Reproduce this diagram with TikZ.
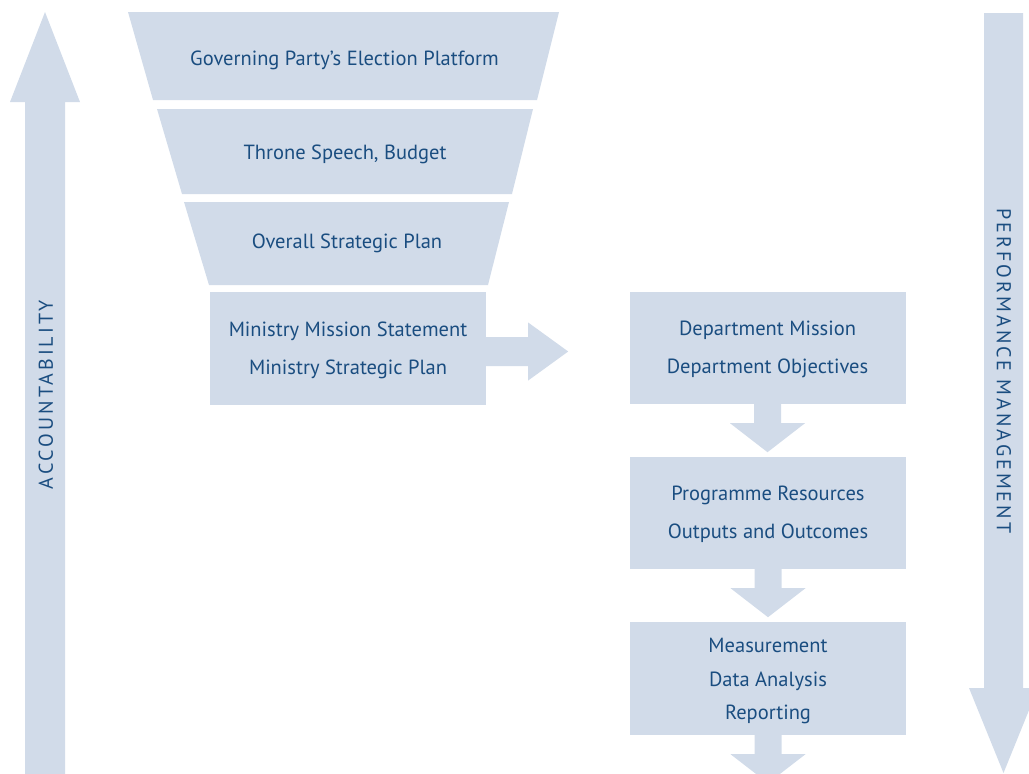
\documentclass[tikz,border=0pt]{standalone}
\usepackage{fontspec}
\setmainfont{PT Sans}
\newfontfamily\spacedcaps[LetterSpace=15]{PT Sans}
\usetikzlibrary{calc}

\definecolor{panel}{RGB}{209,219,233}
\definecolor{ink}{RGB}{26,77,128}

\tikzset{
  txt/.style={text=ink, inner sep=0pt, align=center,
    font=\fontsize{20.5}{38.5}\selectfont},
  box/.style={fill=panel, inner sep=0pt, minimum width=276pt, minimum height=113pt},
  caps/.style={text=ink, inner sep=0pt, text height=14.5pt, text depth=0pt,
    font=\spacedcaps\fontsize{20}{24}\selectfont},
  % block arrow pointing down, hanging from the current point
  downblock/.style={insert path={++(-13.5,0) -- ++(27,0) -- ++(0,19) -- ++(24,0)
    -- ++(-37.5,29) -- ++(-37.5,-29) -- ++(24,0) -- cycle}},
  % block arrow pointing right, starting at the current point
  rightblock/.style={insert path={++(0,-14.5) -- ++(42,0) -- ++(0,-14.5)
    -- ++(40,29) -- ++(-40,29) -- ++(0,-14.5) -- ++(-42,0) -- cycle}},
}

\begin{document}
\begin{tikzpicture}[x=1pt, y=-1pt]
\useasboundingbox (0,0) rectangle (1029,774);
\begin{scope}
\clip (0,0) rectangle (1029,774);

% accountability arrow (upwards)
\fill[panel] (25,780) -- (25,102) -- (10,102) -- (45,12) -- (80,102)
  -- (65,102) -- (65,780) -- cycle;
\node[caps, rotate=90] (acc) at (45.5,394.5) {ACCOUNTABILITY};

% performance management arrow (downwards)
\fill[panel] (984,13) -- (1023,13) -- (1023,688) -- (1038,688) -- (1003.5,773)
  -- (969,688) -- (984,688) -- cycle;
\node[caps, rotate=-90] (perf) at (1004,371) {PERFORMANCE MANAGEMENT};

% funnel of plans
\fill[panel] (128,12) -- (559,12) -- (537,100) -- (153,100) -- cycle;
\node[txt] (platform) at (344.5,60) {Governing Party’s Election Platform};

\fill[panel] (157,109) -- (533,109) -- (512,194) -- (182,194) -- cycle;
\node[txt] (throne) at (345,154) {Throne Speech, Budget};

\fill[panel] (184,202) -- (509,202) -- (488,285) -- (209,285) -- cycle;
\node[txt] (overall) at (347,243.5) {Overall Strategic Plan};

% ministry level
\node[box] (ministry) at (348,348.5) {};
\node[txt] (ministrytext) at ($(ministry)+(0,2)$)
  {Ministry Mission Statement\\Ministry Strategic Plan};

% department chain
\node[box, minimum height=112pt] (dept) at (767.5,348) {};
\node[txt] (depttext) at ($(dept)+(0,1.5)$)
  {Department Mission\\Department Objectives};
\node[box, minimum height=112pt] (prog) at (768,513) {};
\node[txt] (progtext) at ($(prog)+(0,1.5)$)
  {Programme Resources\\Outputs and Outcomes};
\node[box] (meas) at (768,678.5) {};
\node[txt, font=\fontsize{20.5}{33.5}\selectfont] (meastext) at ($(meas)+(0,2.5)$)
  {Measurement\\Data Analysis\\Reporting};

% connecting block arrows
\fill[panel] ($(ministry.east)+(0,3)$) [rightblock];
\fill[panel] (dept.south) [downblock];
\fill[panel] (prog.south) [downblock];
\fill[panel] (meas.south) [downblock];
\end{scope}
\end{tikzpicture}
\end{document}
